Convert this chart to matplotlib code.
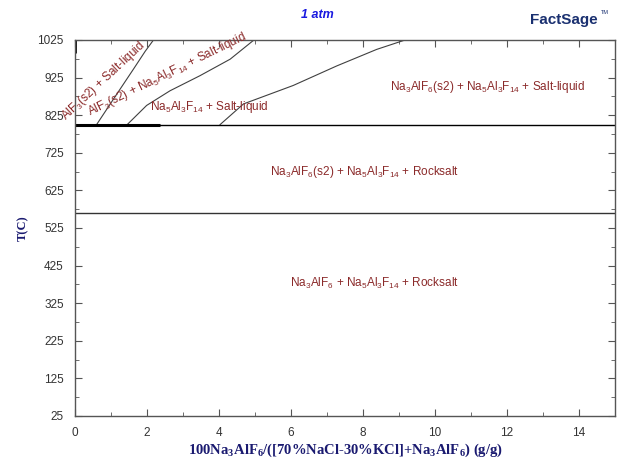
import matplotlib
matplotlib.use("Agg")
import matplotlib.pyplot as plt

# Phase boundary data (x = 100*Na3AlF6/(salt+Na3AlF6), T in C)
curve1_x = [0.60, 1.16, 1.62, 1.95, 2.18]
curve1_T = [800, 881, 947, 995, 1025]
curve2_x = [1.45, 1.99, 2.64, 3.47, 4.31, 4.97]
curve2_T = [800, 851, 890, 930, 974, 1025]
curve3_x = [4.03, 4.68, 6.06, 7.27, 8.38, 9.17]
curve3_T = [800, 855, 904, 956, 1000, 1025]

eutectic_T = 800
transition_T = 565
thick_x = [0, 2.36]

xticks = [0, 2, 4, 6, 8, 10, 12, 14]
yticks = [25, 125, 225, 325, 425, 525, 625, 725, 825, 925, 1025]

labels = [
    (r"AlF$_\mathregular{3}$(s2) + Salt-liquid", 0.78, 917, 43),
    (r"AlF$_\mathregular{3}$(s2) + Na$_\mathregular{5}$Al$_\mathregular{3}$F$_\mathregular{14}$ + Salt-liquid", 2.55, 933, 26),
    (r"Na$_\mathregular{5}$Al$_\mathregular{3}$F$_\mathregular{14}$ + Salt-liquid", 3.72, 846, 0),
    (r"Na$_\mathregular{3}$AlF$_\mathregular{6}$(s2) + Na$_\mathregular{5}$Al$_\mathregular{3}$F$_\mathregular{14}$ + Salt-liquid", 11.47, 899, 0),
    (r"Na$_\mathregular{3}$AlF$_\mathregular{6}$(s2) + Na$_\mathregular{5}$Al$_\mathregular{3}$F$_\mathregular{14}$ + Rocksalt", 8.03, 674, 0),
    (r"Na$_\mathregular{3}$AlF$_\mathregular{6}$ + Na$_\mathregular{5}$Al$_\mathregular{3}$F$_\mathregular{14}$ + Rocksalt", 8.33, 378, 0),
]

plt.rcParams['font.family'] = ['Liberation Sans', 'DejaVu Sans']
plt.rcParams['mathtext.fontset'] = 'custom'
plt.rcParams['mathtext.rm'] = 'Liberation Sans'

fig = plt.figure(figsize=(6.18, 4.68), dpi=100)
ax = fig.add_axes([75/618, 1-416/468, 540/618, 376/468])

lc = '#404040'
ax.plot(curve1_x, curve1_T, color=lc, lw=0.8)
ax.plot(curve2_x, curve2_T, color=lc, lw=0.8)
ax.plot(curve3_x, curve3_T, color=lc, lw=0.8)
ax.axhline(eutectic_T, color='black', lw=1.0)
ax.axhline(transition_T, color='#333333', lw=1.0)
ax.plot(thick_x, [eutectic_T, eutectic_T], color='black', lw=2.2, solid_capstyle='butt')
ax.plot([0, 0], [990, 1025], color='black', lw=2.0, solid_capstyle='butt')

ax.set_xlim(0, 15)
ax.set_ylim(25, 1025)
ax.set_xticks(xticks)
ax.set_xticks(range(0, 16), minor=True)
ax.set_yticks(yticks)
ax.set_yticks(range(75, 1025, 100), minor=True)
ax.tick_params(which='both', direction='in', top=True, right=True,
               labelsize=8.5, labelcolor='#333333', color='#555555')
ax.tick_params(which='major', length=5, width=0.8)
ax.tick_params(axis='x', which='major', pad=8)
ax.tick_params(axis='y', which='major', pad=8)
ax.tick_params(which='minor', length=3, width=0.6)
for s in ax.spines.values():
    s.set_color('#555555')
    s.set_linewidth(1.0)

tc = '#8B2A2A'
for txt, x, y, rot in labels:
    ax.text(x, y, txt, color=tc, fontsize=8.5, rotation=rot,
            rotation_mode='anchor', ha='center', va='center')

ax.set_xlabel(r"100Na$_\mathregular{3}$AlF$_\mathregular{6}$/([70%NaCl-30%KCl]+Na$_\mathregular{3}$AlF$_\mathregular{6}$) (g/g)",
              family='Liberation Serif', fontweight='bold', fontsize=10.5,
              color='#1a1a70', labelpad=2)
ax.set_ylabel("T(C)", family='Liberation Serif', fontweight='bold', fontsize=9,
              color='#1a1a70', labelpad=6)

fig.text(317/618, 1-15/468, "1 atm", color='#1a1aE0', fontsize=9,
         fontweight='bold', style='italic', ha='center', va='center')
fig.text(598/618, 1-20/468, "FactSage", color='#1a3070', fontsize=11,
         fontweight='bold', ha='right', va='center')
fig.text(601/618, 1-13/468, "TM", color='#1a3070', fontsize=4,
         ha='left', va='center')

fig.savefig("out.png", dpi=100)
